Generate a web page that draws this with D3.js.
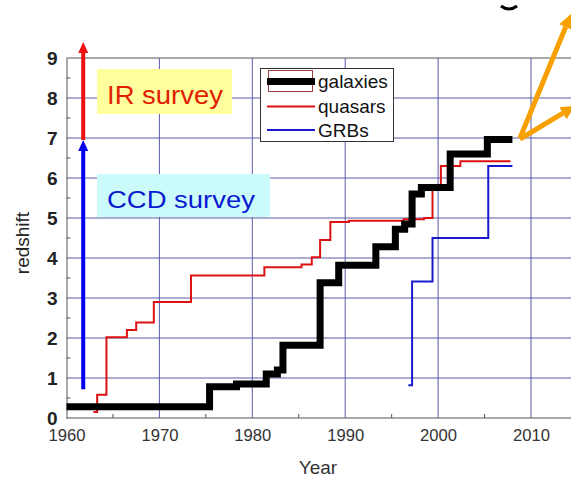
<!DOCTYPE html>
<html><head><meta charset="utf-8">
<script src="https://cdn.jsdelivr.net/npm/d3@7"></script>
<style>body{margin:0;background:#fff}svg{display:block}</style>
</head><body>
<svg id="c" width="571" height="477"></svg>
<script>
// ---- data ----
const galaxyYears = [1960, 1975.4, 1978.3, 1981.5, 1982.7, 1983.3, 1987.3, 1989.3, 1993.3, 1995.4, 1996.4, 1997.2, 1998.2, 2001.3, 2005.3, 2008.0];
const galaxyZ     = [0.28, 0.78, 0.85, 1.10, 1.20, 1.82, 3.38, 3.82, 4.28, 4.72, 4.85, 5.60, 5.76, 6.60, 6.96, 6.96];
const quasarYears = [1962.9, 1963.3, 1964.3, 1966.5, 1967.5, 1969.4, 1973.4, 1981.3, 1985.3, 1986.4, 1987.3, 1988.4, 1990.4, 1996.3, 1998.5, 1999.4, 2000.3, 2002.4, 2007.8];
const quasarZ     = [0.15, 0.58, 2.02, 2.20, 2.39, 2.90, 3.56, 3.77, 3.84, 4.02, 4.45, 4.90, 4.93, 4.97, 5.00, 5.78, 6.30, 6.42, 6.42];
const grbYears = [1996.8, 1997.2, 1999.4, 2005.4, 2008.0];
const grbZ     = [0.82, 3.41, 4.50, 6.30, 6.30];
const xTicks = [1960, 1970, 1980, 1990, 2000, 2010];
const yTicks = [0, 1, 2, 3, 4, 5, 6, 7, 8, 9];
const seriesNames = ["galaxies", "quasars", "GRBs"];
const seriesColors = ["#000000", "#dd1111", "#1a1acc"];
const ccdArrow = [0.72, 6.95];   // redshift range of CCD survey arrow
const irArrow = [6.95, 9.4];     // redshift range of IR survey arrow
const surveyYear = 1961.8;

// ---- setup ----
const svg = d3.select("#c");
const x = d3.scaleLinear().domain([1960, 2010]).range([66.5, 531]);
const y = d3.scaleLinear().domain([0, 9]).range([418, 58]);
const W = 571;
const gridColor = "#5a5aa8";
const FONT = "Liberation Sans, Arial, sans-serif";

// grid
const g = svg.append("g");
g.selectAll(".hg").data(yTicks.slice(1)).join("line")
  .attr("x1", x(1960)).attr("x2", W).attr("y1", d => y(d)).attr("y2", d => y(d))
  .attr("stroke", d => d === 9 ? "#555" : gridColor).attr("stroke-width", 1);
g.selectAll(".vg").data(xTicks.slice(1)).join("line")
  .attr("x1", d => x(d)).attr("x2", d => x(d)).attr("y1", y(9)).attr("y2", y(0))
  .attr("stroke", gridColor).attr("stroke-width", 1);

// axes
const yAxis = d3.axisLeft(y).tickValues(yTicks).tickSize(0).tickPadding(9);
const ya = svg.append("g").attr("transform", `translate(${x(1960)},0)`).call(yAxis);
ya.select(".domain").attr("stroke", "#555");
ya.selectAll("text").attr("font-family", FONT)
  .attr("font-size", 19).attr("font-weight", "bold").attr("fill", "#222");
const xAxis = d3.axisBottom(x).tickValues(xTicks).tickSize(0).tickPadding(12).tickFormat(d3.format("d"));
const xa = svg.append("g").attr("transform", `translate(0,${y(0)})`).call(xAxis);
xa.select(".domain").attr("d", `M${x(1960)},0H${W}`).attr("stroke", "#555");
xa.selectAll("text").attr("font-family", FONT)
  .attr("font-size", 16).attr("fill", "#333").attr("textLength", 37).attr("lengthAdjust", "spacingAndGlyphs");

// minor ticks
svg.append("g").selectAll("line").data(d3.range(0.5, 9, 1)).join("line")
  .attr("x1", x(1960)).attr("x2", x(1960) + 4).attr("y1", d => y(d)).attr("y2", d => y(d))
  .attr("stroke", "#555");
svg.append("g").selectAll("line").data([1965, 1975, 1985, 1995, 2005]).join("line")
  .attr("x1", d => x(d)).attr("x2", d => x(d)).attr("y1", y(0)).attr("y2", y(0) - 4)
  .attr("stroke", "#555");

// axis titles
svg.append("text").attr("transform", `translate(29,${243}) rotate(-90)`)
  .attr("text-anchor", "middle").attr("font-family", FONT)
  .attr("font-size", 19).attr("fill", "#222").text("redshift");
svg.append("text").attr("x", 318).attr("y", 474).attr("text-anchor", "middle")
  .attr("font-family", FONT)
  .attr("font-size", 19).attr("fill", "#333").text("Year");

// series
const line = d3.line().x(d => x(d[0])).y(d => y(d[1])).curve(d3.curveStepAfter);
const zip = (a, b) => a.map((v, i) => [v, b[i]]);
svg.append("path").datum(zip(quasarYears, quasarZ)).attr("d", line)
  .attr("fill", "none").attr("stroke", seriesColors[1]).attr("stroke-width", 2);
svg.append("path").datum(zip(grbYears, grbZ)).attr("d", line)
  .attr("fill", "none").attr("stroke", seriesColors[2]).attr("stroke-width", 2);
svg.append("path").datum(zip(galaxyYears, galaxyZ)).attr("d", line)
  .attr("fill", "none").attr("stroke", seriesColors[0]).attr("stroke-width", 7)
  .attr("stroke-linejoin", "miter");

// survey arrows
function vArrow(z0, z1, color) {
  const xx = x(surveyYear);
  svg.append("line").attr("x1", xx).attr("x2", xx).attr("y1", y(z0)).attr("y2", y(z1) + 9)
    .attr("stroke", color).attr("stroke-width", 4);
  svg.append("path").attr("d", `M${xx},${y(z1)}L${xx - 5},${y(z1) + 11}L${xx + 5},${y(z1) + 11}Z`)
    .attr("fill", color);
}
vArrow(ccdArrow[0], ccdArrow[1], "#0000ee");
vArrow(irArrow[0], irArrow[1], "#ee1111");

// survey labels
svg.append("rect").attr("x", 97).attr("y", 69).attr("width", 135).attr("height", 45).attr("fill", "#ffff9e");
svg.append("text").attr("x", 107).attr("y", 104)
  .attr("font-family", FONT).attr("font-size", 25)
  .attr("textLength", 116).attr("lengthAdjust", "spacingAndGlyphs")
  .attr("fill", "#e02000").text("IR survey");
svg.append("rect").attr("x", 97).attr("y", 174).attr("width", 173).attr("height", 43).attr("fill", "#ccfbfb");
svg.append("text").attr("x", 107).attr("y", 208)
  .attr("font-family", FONT).attr("font-size", 23)
  .attr("textLength", 148).attr("lengthAdjust", "spacingAndGlyphs")
  .attr("fill", "#0a1ad0").text("CCD survey");

// legend
const lg = svg.append("g");
lg.append("rect").attr("x", 260.5).attr("y", 68.5).attr("width", 133).attr("height", 73)
  .attr("fill", "#fff").attr("stroke", "#333").attr("stroke-width", 1);
lg.append("rect").attr("x", 268.5).attr("y", 70.5).attr("width", 44).attr("height", 21)
  .attr("fill", "none").attr("stroke", "#a04040").attr("stroke-width", 1);
const legY = [81.5, 106.5, 130];
const legW = [7, 2, 2];
seriesNames.forEach((n, i) => {
  lg.append("line").attr("x1", 267).attr("x2", 315).attr("y1", legY[i]).attr("y2", legY[i])
    .attr("stroke", seriesColors[i]).attr("stroke-width", legW[i]);
  lg.append("text").attr("x", 318).attr("y", legY[i] + 6.5)
    .attr("font-family", FONT).attr("font-size", 19)
    .attr("fill", "#111").text(n);
});

// orange arrows
function oArrow(x0, y0, x1, y1) {
  const a = Math.atan2(y1 - y0, x1 - x0), L = 14, Wd = 7;
  const bx = x1 - L * Math.cos(a), by = y1 - L * Math.sin(a);
  svg.append("line").attr("x1", x0).attr("y1", y0).attr("x2", bx).attr("y2", by)
    .attr("stroke", "#f7a000").attr("stroke-width", 5);
  svg.append("path").attr("d", `M${x1},${y1}L${bx + Wd * Math.sin(a)},${by - Wd * Math.cos(a)}L${bx - Wd * Math.sin(a)},${by + Wd * Math.cos(a)}Z`)
    .attr("fill", "#f7a000");
}
oArrow(520, 138, 571, 14);
oArrow(520, 139, 575, 106);

// clipped fragment at top edge
svg.append("path").attr("d", "M501,6Q509,12 517,6").attr("fill", "none")
  .attr("stroke", "#000").attr("stroke-width", 3);
</script>
</body></html>
